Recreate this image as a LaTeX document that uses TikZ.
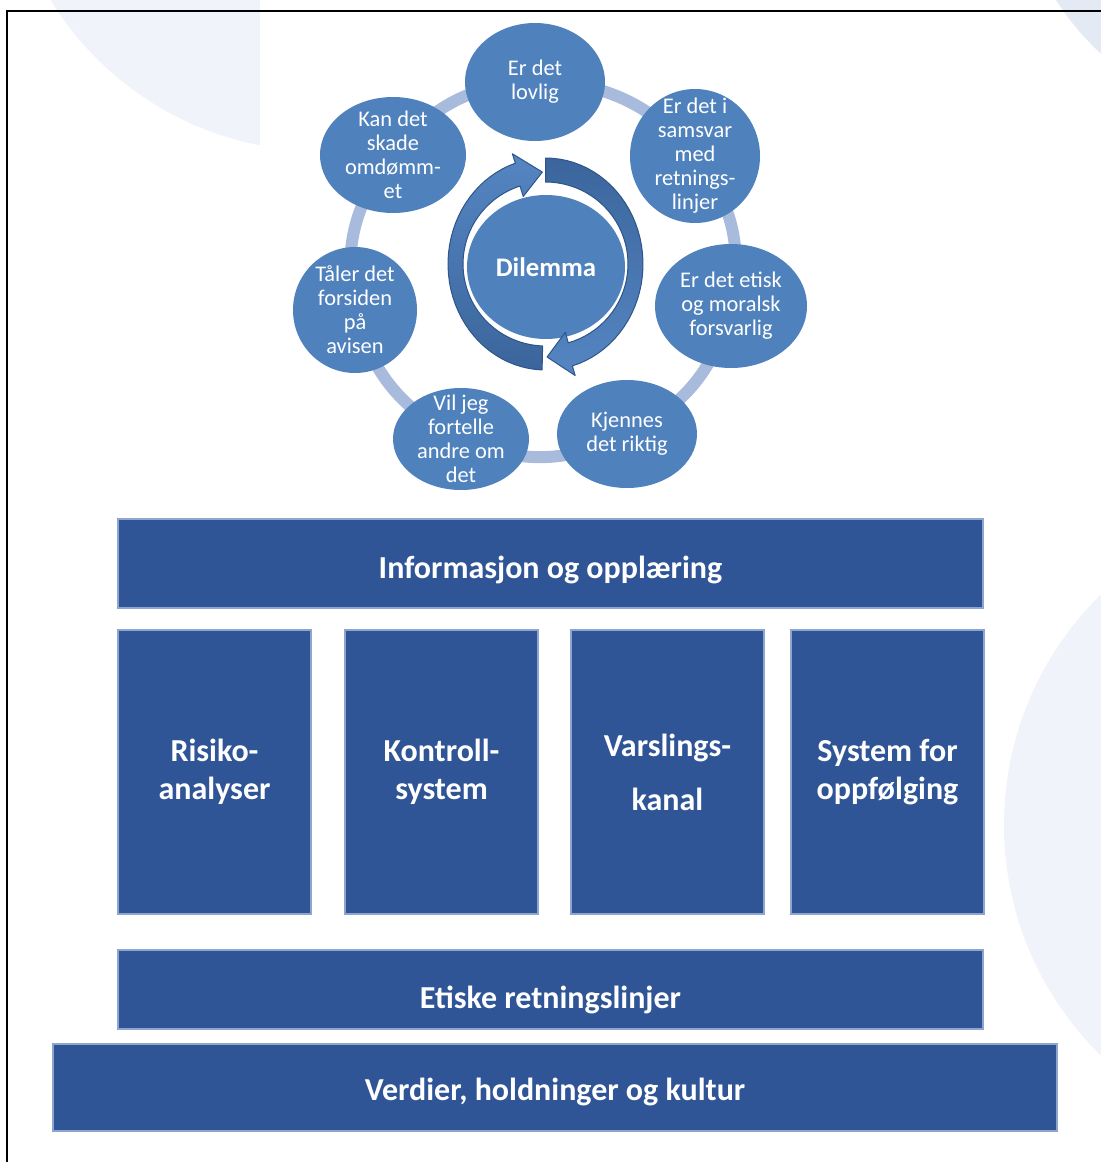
\documentclass[tikz,border=0pt]{standalone}
\usepackage{fontspec}
\setmainfont{Carlito}
\usetikzlibrary{shapes.geometric,backgrounds}
\definecolor{pillarcolor}{HTML}{2F5597}
\definecolor{pillaredge}{HTML}{8EA6CF}
\definecolor{questioncolor}{HTML}{4F81BD}
\definecolor{ringcolor}{HTML}{A9BBDD}
\definecolor{swirlcolor}{HTML}{5586C2}
\definecolor{swirldark}{HTML}{3B659C}
\definecolor{swirledge}{HTML}{2E5589}
\definecolor{hazecolor}{HTML}{F0F4FA}
\definecolor{hazedark}{HTML}{E4EAF4}
\tikzset{
  block/.style={
    rectangle,
    fill=pillarcolor,
    draw=pillaredge,
    line width=0.6pt,
    inner sep=0pt,
    align=center,
    text=white,
    font=\bfseries\fontsize{16}{19}\selectfont
  },
  question/.style={
    ellipse,
    fill=questioncolor,
    inner sep=0pt
  },
  asktext/.style={
    text=white,
    inner sep=0pt,
    align=center,
    font=\fontsize{11.2}{12}\selectfont
  },
  ring/.style={draw=ringcolor, line width=6pt},
  swirl/.style={draw=swirledge, line width=0.5pt, line join=round}
}

\begin{document}
\begin{tikzpicture}[x=0.5pt, y=-0.5pt]
  \useasboundingbox (0,0) rectangle (1101,1162);

  % the seven questions around the dilemma
  \node[question, minimum width=70pt, minimum height=59pt,
    label={[asktext]center:Er det\\lovlig}] (lovlig) at (535,82) {};
  \node[question, minimum width=65pt, minimum height=67pt,
    label={[asktext]center:Er det i\\samsvar\\med\\retnings-\\linjer}] (samsvar) at (695,156) {};
  \node[question, minimum width=76pt, minimum height=62pt,
    label={[asktext]center:Er det etisk\\og moralsk\\forsvarlig}] (etisk) at (731,306) {};
  \node[question, minimum width=70pt, minimum height=54pt,
    label={[asktext]center:Kjennes\\det riktig}] (riktig) at (627,434) {};
  \node[question, minimum width=68pt, minimum height=51pt,
    label={[asktext]center:Vil jeg\\fortelle\\andre om\\det}] (fortelle) at (461,439) {};
  \node[question, minimum width=62pt, minimum height=63pt,
    label={[asktext]center:Tåler det\\forsiden\\på\\avisen}] (forside) at (355,310) {};
  \node[question, minimum width=73pt, minimum height=58pt,
    label={[asktext]center:Kan det\\skade\\omdømm-\\et}] (omdomme) at (393,155) {};

  \node[question, minimum width=79pt, minimum height=72pt, text=white,
    font=\bfseries\fontsize{13.4}{15}\selectfont] (dilemma) at (546,267) {Dilemma};

  % circular arrows, centre (545.5,264)
  \path[swirl, top color=swirldark, middle color=swirldark!75!swirlcolor, bottom color=swirlcolor]
    plot[domain=-90:74, samples=40] ({545.5+97.5*cos(\x)}, {264+106*sin(\x)})
    -- ({545.5+107.5*cos(74)}, {264+116*sin(74)})
    -- ({545.5+90*cos(89)}, {264+93*sin(89)})
    -- ({545.5+72*cos(74)}, {264+71*sin(74)})
    -- plot[domain=74:-90, samples=40] ({545.5+82.5*cos(\x)}, {264+82*sin(\x)})
    -- cycle;
  \path[swirl, top color=swirlcolor, middle color=swirldark!60!swirlcolor, bottom color=swirldark]
    plot[domain=92:252, samples=40] ({545.5+97.5*cos(\x)}, {264+106*sin(\x)})
    -- ({545.5+107.5*cos(252)}, {264+116*sin(252)})
    -- ({545.5+90*cos(268)}, {264+92*sin(268)})
    -- ({545.5+72*cos(252)}, {264+71*sin(252)})
    -- plot[domain=252:92, samples=40] ({545.5+82.5*cos(\x)}, {264+82*sin(\x)})
    -- cycle;

  \begin{scope}[on background layer]
    \begin{scope}
      \clip (0,0) rectangle (260,1162);
      \fill[hazecolor] (320,-165) circle[radius=158pt];
    \end{scope}
    \fill[hazedark] (1290,-150) circle[radius=139pt];
    \fill[hazecolor] (1327,825) circle[radius=161.5pt];
    \foreach \a/\b in {lovlig/samsvar, samsvar/etisk, etisk/riktig, riktig/fortelle,
                      fortelle/forside, forside/omdomme, omdomme/lovlig}
      \draw[ring] (\a.center) to[bend left=25] (\b.center);
  \end{scope}

  % pillars
  \node[block, minimum width=432.5pt, minimum height=44.5pt, text height=14.5pt, text depth=0pt]
    (training) at (550.5,563.5) {Informasjon og opplæring};
  \node[block, minimum width=96.5pt, minimum height=142pt] (risk) at (214.5,772) {Risiko-\\analyser};
  \node[block, minimum width=96.5pt, minimum height=142pt] (control) at (441.5,772) {Kontroll-\\system};
  \node[block, minimum width=96.5pt, minimum height=142pt] (whistle) at (667.5,772) {Varslings-\\[8pt]kanal};
  \node[block, minimum width=96.5pt, minimum height=142pt] (followup) at (887.5,772) {System for\\oppfølging};
  \node[block, minimum width=432.5pt, minimum height=39.5pt, text height=18.5pt, text depth=0pt]
    (ethics) at (550.5,989.5) {Etiske retningslinjer};
  \node[block, minimum width=502pt, minimum height=43.5pt, text height=12.5pt, text depth=0pt]
    (values) at (555,1087.5) {Verdier, holdninger og kultur};

  \draw[line width=1.3pt] (7,1162) -- (7,11) -- (1101,11);
\end{tikzpicture}
\end{document}
